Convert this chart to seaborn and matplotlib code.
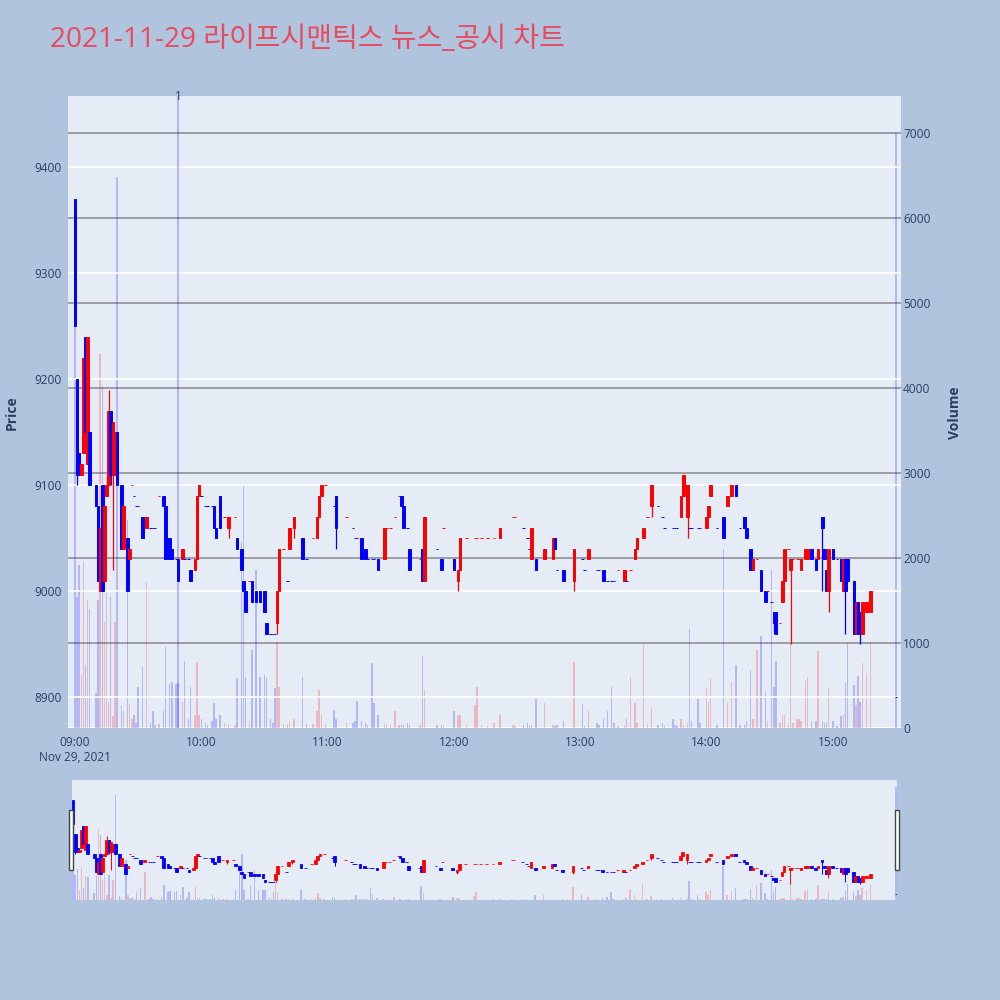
import numpy as np
import pandas as pd
import matplotlib
matplotlib.use("Agg")
import matplotlib.pyplot as plt
from matplotlib.patches import Rectangle
import seaborn as sns

sns.set_theme(style="white")
plt.rcParams['font.family'] = ['Open Sans', 'Noto Sans CJK KR', 'DejaVu Sans']

TITLE = "2021-11-29 라이프시맨틱스 뉴스_공시 차트"

# minutes after 09:00
minutes = [0, 1, 2, 3, 4, 5, 6, 7, 10, 11,
           12, 13, 14, 15, 16, 17, 18, 19, 20, 22,
           23, 25, 26, 27, 28, 29, 30, 32, 34, 36,
           37, 38, 40, 42, 43, 45, 46, 48, 49, 51,
           52, 54, 55, 57, 58, 59, 60, 62, 63, 65,
           66, 67, 69, 71, 73, 76, 77, 79, 80, 81,
           83, 84, 86, 88, 90, 91, 93, 94, 95, 96,
           97, 99, 101, 102, 104, 108, 110, 113, 115, 116,
           117, 119, 123, 124, 129, 132, 133, 134, 136, 138,
           139, 141, 142, 144, 147, 148, 150, 152, 154, 155,
           156, 158, 159, 164, 165, 166, 172, 174, 175, 180,
           182, 183, 186, 190, 191, 193, 196, 199, 202, 208,
           209, 213, 215, 216, 217, 219, 223, 227, 228, 229,
           232, 237, 241, 242, 244, 248, 249, 251, 253, 255,
           256, 258, 261, 262, 264, 266, 267, 270, 272, 274,
           277, 279, 280, 284, 285, 286, 288, 289, 291, 292,
           293, 296, 297, 300, 301, 302, 305, 308, 310, 312,
           314, 316, 318, 319, 321, 322, 324, 326, 328, 329,
           331, 332, 333, 335, 336, 337, 339, 340, 341, 343,
           344, 345, 347, 348, 350, 352, 353, 355, 356, 357,
           358, 360, 362, 364, 365, 366, 367, 370, 371, 372,
           373, 374, 376, 378, 390]

opens = [9370, 9200, 9130, 9110, 9130, 9240, 9120, 9150, 9100, 9080,
         9000, 9100, 9010, 9090, 9100, 9170, 9110, 9110, 9150, 9100,
         9040, 9050, 9030, 9100, 9090, 9080, 9080, 9070, 9060, 9060,
         9060, 9060, 9090, 9090, 9080, 9050, 9040, 9030, 9030, 9030,
         9030, 9030, 9020, 9020, 9030, 9090, 9090, 9080, 9080, 9080,
         9080, 9060, 9090, 9070, 9060, 9070, 9050, 9040, 9010, 9000,
         9010, 9010, 9000, 9000, 9000, 8970, 8960, 8960, 8960, 8970,
         9000, 9040, 9010, 9040, 9060, 9050, 9030, 9050, 9050, 9070,
         9090, 9100, 9080, 9090, 9070, 9060, 9050, 9050, 9050, 9040,
         9030, 9030, 9030, 9030, 9030, 9060, 9060, 9070, 9090, 9090,
         9080, 9060, 9040, 9030, 9040, 9010, 9040, 9030, 9060, 9030,
         9010, 9020, 9050, 9050, 9050, 9050, 9050, 9050, 9050, 9070,
         9070, 9060, 9050, 9040, 9030, 9030, 9030, 9030, 9050, 9020,
         9020, 9010, 9030, 9020, 9030, 9020, 9020, 9020, 9010, 9010,
         9010, 9020, 9010, 9010, 9020, 9030, 9040, 9050, 9070, 9080,
         9080, 9070, 9060, 9060, 9060, 9060, 9070, 9090, 9070, 9060,
         9060, 9060, 9060, 9060, 9070, 9090, 9060, 9070, 9080, 9090,
         9100, 9060, 9070, 9060, 9040, 9020, 9030, 9020, 9000, 9000,
         8990, 8980, 8980, 8970, 8990, 9010, 9040, 9020, 9030, 9030,
         9030, 9020, 9030, 9030, 9040, 9030, 9030, 9070, 9040, 9020,
         9000, 9040, 9030, 9030, 9000, 9030, 9030, 9010, 8960, 8990,
         8980, 8960, 8980, 8980, 8900]

highs = [9370, 9200, 9130, 9120, 9220, 9240, 9240, 9150, 9100, 9080,
         9060, 9100, 9080, 9110, 9190, 9170, 9160, 9150, 9150, 9100,
         9080, 9050, 9040, 9100, 9090, 9080, 9080, 9070, 9070, 9060,
         9060, 9060, 9090, 9090, 9080, 9050, 9040, 9030, 9030, 9040,
         9030, 9030, 9020, 9030, 9090, 9100, 9090, 9080, 9080, 9080,
         9080, 9060, 9090, 9070, 9070, 9070, 9050, 9040, 9010, 9000,
         9010, 9010, 9000, 9000, 9000, 8970, 8960, 8960, 8960, 9000,
         9040, 9040, 9010, 9060, 9070, 9050, 9030, 9050, 9070, 9090,
         9100, 9100, 9080, 9090, 9070, 9060, 9050, 9050, 9050, 9040,
         9030, 9030, 9030, 9030, 9060, 9060, 9060, 9070, 9090, 9090,
         9080, 9060, 9040, 9030, 9040, 9070, 9040, 9030, 9060, 9030,
         9020, 9050, 9050, 9050, 9050, 9050, 9050, 9050, 9060, 9070,
         9070, 9060, 9050, 9040, 9060, 9030, 9040, 9050, 9050, 9020,
         9020, 9040, 9030, 9020, 9040, 9020, 9020, 9020, 9010, 9010,
         9010, 9020, 9020, 9010, 9020, 9040, 9050, 9060, 9070, 9100,
         9080, 9070, 9060, 9060, 9060, 9060, 9090, 9110, 9100, 9060,
         9060, 9060, 9060, 9070, 9080, 9100, 9060, 9070, 9090, 9100,
         9100, 9060, 9070, 9060, 9040, 9030, 9030, 9020, 9000, 9000,
         8990, 8980, 8980, 8970, 9010, 9040, 9040, 9030, 9030, 9030,
         9030, 9030, 9040, 9040, 9040, 9030, 9040, 9070, 9040, 9020,
         9040, 9040, 9030, 9030, 9030, 9030, 9030, 9010, 8990, 8990,
         8980, 8990, 8990, 9000, 8900]

lows = [9250, 9100, 9110, 9110, 9130, 9150, 9120, 9100, 9080, 9010,
        9000, 9000, 9010, 9090, 9100, 9100, 9020, 9110, 9100, 9040,
        9040, 9000, 9030, 9100, 9090, 9080, 9080, 9050, 9060, 9060,
        9060, 9060, 9090, 9080, 9030, 9030, 9030, 9030, 9010, 9030,
        9030, 9030, 9010, 9020, 9030, 9090, 9090, 9080, 9080, 9080,
        9060, 9050, 9060, 9070, 9050, 9070, 9040, 9020, 9000, 8980,
        9010, 8990, 8990, 8990, 8980, 8960, 8960, 8960, 8960, 8960,
        9000, 9040, 9010, 9040, 9050, 9030, 9030, 9050, 9050, 9070,
        9090, 9100, 9080, 9040, 9070, 9060, 9050, 9050, 9030, 9030,
        9030, 9030, 9030, 9020, 9030, 9060, 9060, 9070, 9090, 9080,
        9060, 9060, 9020, 9030, 9010, 9010, 9040, 9020, 9060, 9020,
        9000, 9020, 9050, 9050, 9050, 9050, 9050, 9050, 9050, 9070,
        9070, 9060, 9050, 9040, 9030, 9020, 9030, 9030, 9040, 9020,
        9010, 9000, 9030, 9020, 9030, 9020, 9020, 9010, 9010, 9010,
        9010, 9020, 9010, 9010, 9020, 9030, 9040, 9050, 9070, 9070,
        9080, 9070, 9060, 9060, 9060, 9060, 9070, 9090, 9050, 9060,
        9060, 9060, 9060, 9060, 9070, 9090, 9060, 9050, 9080, 9090,
        9090, 9060, 9060, 9050, 9020, 9020, 9030, 9000, 8990, 9000,
        8990, 8960, 8960, 8970, 8990, 9010, 9040, 8950, 9030, 9030,
        9030, 9020, 9030, 9030, 9030, 9020, 9030, 9000, 9030, 9000,
        8980, 9030, 9030, 9010, 9000, 8960, 9010, 8960, 8960, 8960,
        8950, 8960, 8980, 8980, 8900]

closes = [9250, 9110, 9110, 9120, 9220, 9150, 9240, 9100, 9080, 9010,
          9060, 9000, 9080, 9100, 9170, 9110, 9160, 9150, 9100, 9040,
          9080, 9000, 9040, 9100, 9090, 9080, 9080, 9050, 9070, 9060,
          9060, 9060, 9090, 9080, 9030, 9030, 9030, 9030, 9010, 9040,
          9030, 9030, 9010, 9030, 9090, 9100, 9090, 9080, 9080, 9080,
          9060, 9050, 9060, 9070, 9070, 9070, 9040, 9020, 9000, 8980,
          9010, 8990, 8990, 8990, 8980, 8960, 8960, 8960, 8960, 9000,
          9040, 9040, 9010, 9060, 9070, 9030, 9030, 9050, 9070, 9090,
          9100, 9100, 9080, 9060, 9070, 9060, 9050, 9050, 9030, 9030,
          9030, 9030, 9030, 9020, 9060, 9060, 9060, 9070, 9090, 9080,
          9060, 9060, 9020, 9030, 9010, 9070, 9040, 9020, 9060, 9020,
          9020, 9050, 9050, 9050, 9050, 9050, 9050, 9050, 9060, 9070,
          9070, 9060, 9050, 9040, 9060, 9020, 9040, 9050, 9040, 9020,
          9010, 9040, 9030, 9020, 9040, 9020, 9020, 9010, 9010, 9010,
          9010, 9020, 9020, 9010, 9020, 9040, 9050, 9060, 9070, 9100,
          9080, 9070, 9060, 9060, 9060, 9060, 9090, 9110, 9100, 9060,
          9060, 9060, 9060, 9070, 9080, 9100, 9060, 9050, 9090, 9100,
          9090, 9060, 9060, 9050, 9020, 9030, 9030, 9000, 8990, 9000,
          8990, 8970, 8960, 8970, 9010, 9040, 9040, 9030, 9030, 9030,
          9030, 9030, 9040, 9040, 9030, 9020, 9040, 9060, 9030, 9000,
          9040, 9030, 9030, 9010, 9030, 9000, 9010, 8960, 8990, 8960,
          8960, 8990, 8990, 9000, 8900]

volumes = [4800, 1540, 1920, 620, 1960, 740, 1500, 1400, 410, 1500,
           4400, 4020, 1250, 1590, 310, 1540, 140, 1250, 6480, 260,
           200, 2450, 280, 100, 150, 60, 480, 720, 1720, 60,
           200, 40, 50, 200, 950, 520, 540, 520, 530, 300,
           790, 100, 480, 150, 780, 150, 100, 60, 40, 80,
           290, 100, 150, 60, 50, 40, 590, 2190, 2860, 600,
           80, 920, 1860, 600, 620, 590, 100, 60, 470, 1010,
           480, 50, 40, 80, 100, 600, 50, 50, 200, 450,
           150, 50, 210, 100, 60, 60, 80, 320, 80, 60,
           40, 760, 290, 150, 50, 30, 30, 200, 30, 40,
           30, 60, 40, 30, 850, 450, 30, 40, 20, 200,
           150, 150, 30, 270, 480, 30, 20, 60, 150, 40,
           20, 40, 60, 20, 30, 340, 290, 30, 20, 30,
           80, 780, 280, 20, 200, 60, 30, 100, 200, 480,
           60, 20, 40, 100, 600, 290, 60, 990, 50, 240,
           30, 60, 20, 100, 30, 20, 100, 30, 60, 1160,
           80, 340, 60, 470, 290, 590, 30, 2100, 290, 540,
           740, 30, 40, 80, 680, 100, 920, 1080, 420, 80,
           1860, 480, 790, 60, 150, 150, 30, 1000, 60, 100,
           100, 80, 550, 600, 80, 80, 910, 80, 60, 70,
           470, 80, 20, 140, 160, 530, 1000, 505, 270, 610,
           300, 760, 650, 1010, 7000]

tick_minutes = [0, 60, 120, 180, 240, 300, 360]
tick_labels = ["09:00\nNov 29, 2021", "10:00", "11:00", "12:00", "13:00", "14:00", "15:00"]
price_ticks = [8900, 9000, 9100, 9200, 9300, 9400]
volume_ticks = [0, 1000, 2000, 3000, 4000, 5000, 6000, 7000]
news_minute = [49]
news_label = ["1"]

df = pd.DataFrame(dict(minute=minutes, open=opens, high=highs, low=lows,
                       close=closes, volume=volumes))

# direction of each candle (flat candles follow the move from previous close)
ups = []
prev_c, prev_u = None, False
for o, c in zip(df["open"], df["close"]):
    if c > o:
        u = True
    elif c < o:
        u = False
    elif prev_c is None:
        u = False
    elif c > prev_c:
        u = True
    elif c < prev_c:
        u = False
    else:
        u = prev_u
    ups.append(u)
    prev_c, prev_u = c, u
df["up"] = ups

RED = "#ff0000"
BLUE = "#0000ff"
PLOT_BG = "#e5ecf6"
FIG_BG = "#b0c4de"
TXT = "#2a3f5f"
colors = np.where(df["up"], RED, BLUE)

PRICE_LIM = (8871, 9467)
VOL_LIM = (0, 7435)


def draw(ax_p, ax_v, body_w, wick_lw, edge_lw, vol_w):
    ax_v.bar(df["minute"], df["volume"], width=vol_w, color=colors,
             alpha=0.22, linewidth=0)
    ax_p.vlines(df["minute"], df["low"], df["high"], colors=colors,
                linewidth=wick_lw, zorder=3)
    bottoms = np.minimum(df["open"], df["close"])
    heights = np.abs(df["close"] - df["open"])
    ax_p.bar(df["minute"], heights, bottom=bottoms, width=body_w,
             color=colors, edgecolor=colors, linewidth=edge_lw, zorder=4)


fig = plt.figure(figsize=(10, 10), dpi=100, facecolor=FIG_BG)

# ---------- main chart ----------
ax = fig.add_axes([0.068, 0.272, 0.833, 0.632])
axv = ax.twinx()
ax.set_zorder(axv.get_zorder() + 1)
ax.patch.set_visible(False)
axv.patch.set_visible(True)
axv.set_facecolor(PLOT_BG)

draw(ax, axv, body_w=1.2, wick_lw=0.9, edge_lw=0.7, vol_w=0.7)

for m, lab in zip(news_minute, news_label):
    ax.axvline(m, color=BLUE, alpha=0.3, lw=1.1, zorder=1)
    ax.text(m, PRICE_LIM[1], lab, ha="center", va="center",
            fontsize=8.6, color=TXT)

ax.set_xlim(-3.3, 392.4)
ax.set_ylim(*PRICE_LIM)
axv.set_ylim(*VOL_LIM)
ax.set_yticks(price_ticks)
ax.set_yticklabels([str(p) for p in price_ticks])
axv.set_yticks(volume_ticks)
axv.set_yticklabels([str(v) for v in volume_ticks])
ax.set_xticks(tick_minutes)
ax.set_xticklabels(tick_labels)

ax.grid(axis="y", color="white", lw=1.2)
ax.grid(axis="x", visible=False)
axv.grid(axis="y", color="#9c9ca4", lw=1.4)
axv.grid(axis="x", visible=False)
axv.set_axisbelow(True)
axv.get_ygridlines()[0].set_color("white")

for a in (ax, axv):
    for s in a.spines.values():
        s.set_visible(False)
ax.tick_params(axis="y", length=0, labelsize=8.6, labelcolor=TXT, pad=4.5)
ax.tick_params(axis="x", length=0, labelsize=8.6, labelcolor=TXT, pad=6)
axv.tick_params(axis="y", length=0, labelsize=8.6, labelcolor=TXT, pad=1.5)

fig.text(0.012, 0.587, "Price", rotation=90, ha="center", va="center",
         fontsize=10, color=TXT, fontweight="bold")
fig.text(0.955, 0.587, "Volume", rotation=90, ha="center", va="center",
         fontsize=10, color=TXT, fontweight="bold")

fig.text(0.05, 0.96, TITLE, ha="left", va="center", fontsize=20.2,
         color="#e84a5f", family=["Open Sans", "Noto Sans CJK KR"])

# ---------- range slider ----------
axs = fig.add_axes([0.072, 0.100, 0.825, 0.120])
axsv = axs.twinx()
axs.set_zorder(axsv.get_zorder() + 1)
axs.patch.set_visible(False)
axsv.patch.set_visible(True)
axsv.set_facecolor(PLOT_BG)
draw(axs, axsv, body_w=1.3, wick_lw=0.7, edge_lw=0.6, vol_w=0.7)
axs.set_xlim(-0.5, 390.5)
axs.set_ylim(*PRICE_LIM)
axsv.set_ylim(*VOL_LIM)
for a in (axs, axsv):
    a.set_xticks([])
    a.set_yticks([])
    a.grid(False)
    for s in a.spines.values():
        s.set_visible(False)

for x0 in (0.069, 0.895):
    fig.patches.append(Rectangle((x0, 0.130), 0.004, 0.060,
                                 transform=fig.transFigure, facecolor="white",
                                 edgecolor="#444444", lw=1.0, zorder=10))

fig.savefig("out.png", dpi=100, facecolor=FIG_BG)
